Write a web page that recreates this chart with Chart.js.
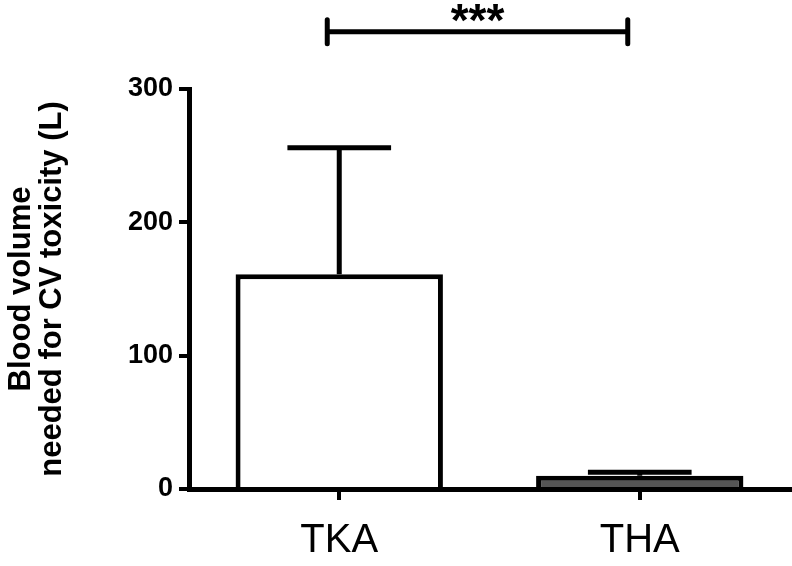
<!DOCTYPE html>
<html>
<head>
<meta charset="utf-8">
<script src="https://cdn.jsdelivr.net/npm/chart.js@4"></script>
<style>
  html, body { margin: 0; padding: 0; background: #fff; }
  #wrap { width: 792px; height: 566px; }
</style>
</head>
<body>
<div id="wrap"><canvas id="chart" width="792" height="566"></canvas></div>
<script>
const categories = ['TKA', 'THA'];
const means = [161, 10];
const errTops = [256, 12.5];
const barColors = ['#ffffff', '#555555'];
const yTicks = [0, 100, 200, 300];
const sigLabel = '***';
const sigLevel = 343;

const FONT = '"Liberation Sans", Arial, Helvetica, sans-serif';

// error bars + significance bracket
const extras = {
  id: 'extras',
  afterDatasetsDraw(chart) {
    const ctx = chart.ctx;
    const x = chart.scales.x, y = chart.scales.y;
    const meta = chart.getDatasetMeta(0);
    ctx.save();
    ctx.strokeStyle = '#000';
    ctx.lineWidth = 5;
    ctx.lineCap = 'butt';
    meta.data.forEach((bar, i) => {
      const cx = bar.x;
      const y0 = y.getPixelForValue(means[i]);
      const y1 = y.getPixelForValue(errTops[i]);
      const half = bar.width / 4;
      ctx.beginPath();
      ctx.moveTo(cx, y0);
      ctx.lineTo(cx, y1);
      ctx.moveTo(cx - half, y1);
      ctx.lineTo(cx + half, y1);
      ctx.stroke();
    });

    // bracket
    const bx1 = x.getPixelForValue(0) - 12;
    const bx2 = x.getPixelForValue(1) - 12;
    const by = y.getPixelForValue(sigLevel);
    ctx.lineCap = 'round';
    ctx.beginPath();
    ctx.moveTo(bx1, by);
    ctx.lineTo(bx2, by);
    ctx.moveTo(bx1, by - 12);
    ctx.lineTo(bx1, by + 12);
    ctx.moveTo(bx2, by - 12);
    ctx.lineTo(bx2, by + 12);
    ctx.stroke();
    ctx.fillStyle = '#000';
    ctx.font = 'bold 46px ' + FONT;
    ctx.textAlign = 'center';
    ctx.textBaseline = 'alphabetic';
    ctx.fillText(sigLabel, (bx1 + bx2) / 2, by + 4);
    ctx.restore();
  }
};

new Chart(document.getElementById('chart'), {
  type: 'bar',
  data: {
    labels: categories,
    datasets: [{
      data: means,
      backgroundColor: barColors,
      borderColor: '#000',
      borderWidth: 5,
      borderSkipped: 'bottom',
      categoryPercentage: 1,
      barPercentage: 0.69
    }]
  },
  options: {
    responsive: false,
    animation: false,
    layout: { padding: { top: 89, right: 2, bottom: 0, left: 0 } },
    plugins: { legend: { display: false }, tooltip: { enabled: false } },
    scales: {
      x: {
        afterFit: s => { s.height = 77; },
        grid: { offset: false, drawOnChartArea: false, drawTicks: true, tickLength: 11, color: '#000', lineWidth: 4 },
        border: { display: true, color: '#000', width: 5 },
        ticks: { color: '#000', padding: 17, font: { family: FONT, size: 40 } }
      },
      y: {
        min: 0,
        max: 300,
        afterFit: s => { s.width = 189; },
        afterBuildTicks: s => { s.ticks = yTicks.map(v => ({ value: v })); },
        grid: { drawOnChartArea: false, drawTicks: true, tickLength: 10, color: '#000', lineWidth: 4 },
        border: { display: true, color: '#000', width: 5 },
        ticks: { color: '#000', padding: 6, font: { family: FONT, size: 27, weight: 'bold' } },
        title: {
          display: true,
          text: ['Blood volume', 'needed for CV toxicity (L)'],
          color: '#000',
          padding: { top: 6, bottom: 0 },
          font: { family: FONT, size: 31, weight: 'bold', lineHeight: 1.0 }
        }
      }
    }
  },
  plugins: [extras]
});
</script>
</body>
</html>
